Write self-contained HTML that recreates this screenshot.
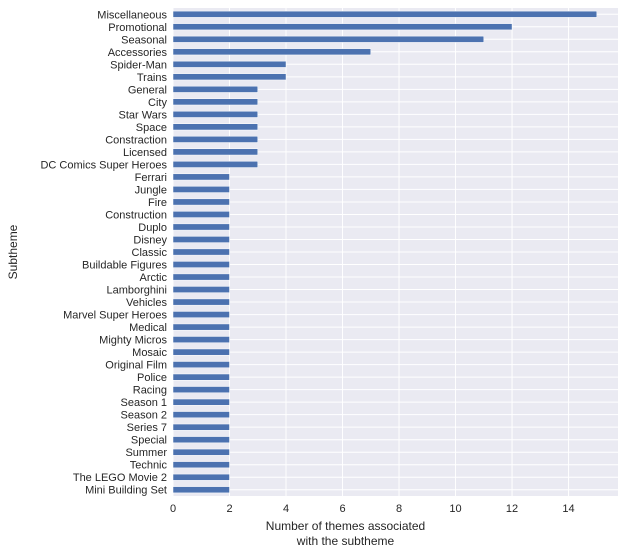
<!DOCTYPE html>
<html><head><meta charset="utf-8"><style>
body{margin:0;background:#fff;font-family:"Liberation Sans","DejaVu Sans",sans-serif}
</style></head><body>
<svg id="chart" width="625" height="555" xmlns="http://www.w3.org/2000/svg" font-family="Liberation Sans, DejaVu Sans, sans-serif"></svg>
<script>
const categories=["Miscellaneous","Promotional","Seasonal","Accessories","Spider-Man","Trains","General","City","Star Wars","Space","Constraction","Licensed","DC Comics Super Heroes","Ferrari","Jungle","Fire","Construction","Duplo","Disney","Classic","Buildable Figures","Arctic","Lamborghini","Vehicles","Marvel Super Heroes","Medical","Mighty Micros","Mosaic","Original Film","Police","Racing","Season 1","Season 2","Series 7","Special","Summer","Technic","The LEGO Movie 2","Mini Building Set"];
const values=[15,12,11,7,4,4,3,3,3,3,3,3,3,2,2,2,2,2,2,2,2,2,2,2,2,2,2,2,2,2,2,2,2,2,2,2,2,2,2];
const xTicks=[0,2,4,6,8,10,12,14];
const svg=document.getElementById('chart');
const NS='http://www.w3.org/2000/svg';
const L=173,R=618,T=8,B=496,XMAX=15.75;
const x=v=>L+(v/XMAX)*(R-L);
const band=(B-T)/categories.length;
const yc=i=>T+band*(i+0.5);
function mk(tag,attrs,parent){const e=document.createElementNS(NS,tag);for(const k in attrs)e.setAttribute(k,attrs[k]);(parent||svg).appendChild(e);return e;}
const bg=mk('rect',{x:L,y:T,width:R-L,height:B-T,fill:'#eaeaf2'});


xTicks.forEach(t=>{
 const g=mk('line',{x1:x(t),x2:x(t),y1:T,y2:B,stroke:'#fff','stroke-width':1});
 
 
 const tx=mk('text',{x:x(t),y:B+16,'font-size':11,fill:'#262626','text-anchor':'middle'});
 tx.textContent=t;
 
 
});
categories.forEach((c,i)=>{
 const g=mk('line',{x1:L,x2:R,y1:yc(i),y2:yc(i),stroke:'#fff','stroke-width':1});
 
 
});
categories.forEach((c,i)=>{
 const h=band*0.5;
 const b=mk('rect',{x:x(0),y:yc(i)-h/2,width:x(values[i])-x(0),height:h,fill:'#4c72b0',stroke:'#fff','stroke-width':0.5});
 
 
 const t=mk('text',{x:L-6,y:yc(i)+4,'font-size':11,fill:'#262626','text-anchor':'end'});
 t.textContent=c;
 
 
});
const xt=mk('text',{x:(L+R)/2-50,y:530,'font-size':12,fill:'#262626','text-anchor':'middle'});


const s1=mk('tspan',{x:(L+R)/2-50,dy:0},xt);s1.textContent='Number of themes associated';
const s2=mk('tspan',{x:(L+R)/2-50,dy:15},xt);s2.textContent='with the subtheme';
const yt=mk('text',{x:0,y:0,'font-size':12,fill:'#262626','text-anchor':'middle',transform:'translate(17,'+((T+B)/2)+') rotate(-90)'});
yt.textContent='Subtheme';


</script>
</body></html>
